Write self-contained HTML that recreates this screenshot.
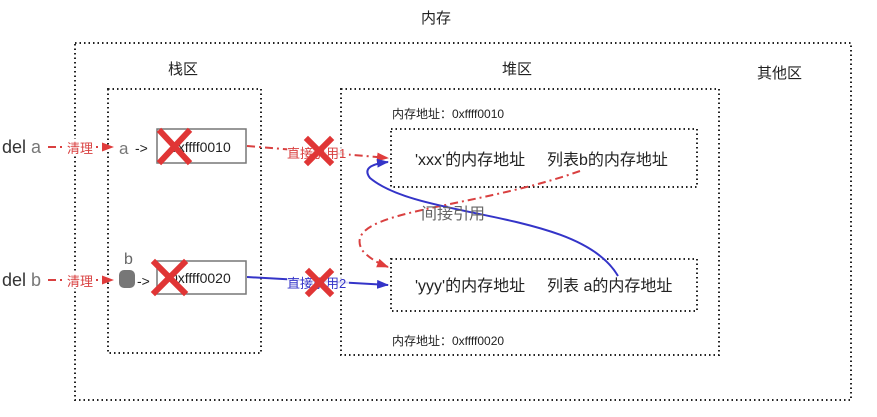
<!DOCTYPE html>
<html><head><meta charset="utf-8"><style>
body{margin:0;background:#fff}
svg text{font-family:"Liberation Sans","Noto Sans CJK SC",sans-serif}
</style></head><body>
<svg width="877" height="412" viewBox="0 0 877 412" xmlns="http://www.w3.org/2000/svg">
<defs>
<marker id="ar" markerWidth="12" markerHeight="9" refX="11" refY="4.5" orient="auto" markerUnits="userSpaceOnUse"><path d="M0,0 L12,4.5 L0,9 z" fill="#e03c3c"/></marker>
<marker id="ab" markerWidth="12" markerHeight="9" refX="11" refY="4.5" orient="auto" markerUnits="userSpaceOnUse"><path d="M0,0 L12,4.5 L0,9 z" fill="#3434c8"/></marker>
</defs>
<g fill="none" stroke="#222" stroke-width="2" stroke-dasharray="1.5 3">
<rect x="75" y="43" width="776" height="357"/>
<rect x="108" y="89" width="153" height="264"/>
<rect x="341" y="89" width="378" height="266"/>
<rect x="391" y="129" width="306" height="58"/>
<rect x="391" y="259" width="306" height="52"/>
</g>
<g fill="#222" font-size="15">
<text x="421" y="23">内存</text>
<text x="168" y="74">栈区</text>
<text x="502" y="74">堆区</text>
<text x="757" y="78">其他区</text>
</g>
<g font-size="12" fill="#222">
<text x="392" y="118">内存地址：0xffff0010</text>
<text x="392" y="345">内存地址：0xffff0020</text>
</g>
<g font-size="16" fill="#222">
<text x="415" y="165">'xxx'的内存地址<tspan x="547">列表b的内存地址</tspan></text>
<text x="415" y="291">'yyy'的内存地址<tspan x="547">列表 a的内存地址</tspan></text>
</g>
<text x="2" y="153" font-size="18" fill="#333">del <tspan fill="#777">a</tspan></text>
<text x="2" y="286" font-size="18" fill="#333">del <tspan fill="#777">b</tspan></text>
<g stroke="#d94040" stroke-width="2" stroke-dasharray="8 4 2 4" fill="none">
<line x1="48" y1="147" x2="113" y2="147" marker-end="url(#ar)"/>
<line x1="48" y1="280" x2="113" y2="280" marker-end="url(#ar)"/>
<path d="M247,146 Q320,152 388,158" marker-end="url(#ar)"/>
<path d="M580,171 C470,210 340,210 362,250 Q370,260 388,267" marker-end="url(#ar)"/>
</g>
<rect x="66" y="139" width="30" height="16" fill="#fff"/>
<rect x="66" y="272" width="30" height="16" fill="#fff"/>
<text x="67" y="153" font-size="13" fill="#d94040">清理</text>
<text x="67" y="286" font-size="13" fill="#d94040">清理</text>
<g stroke="#3434c8" stroke-width="2" fill="none">
<line x1="247" y1="277" x2="388" y2="285" marker-end="url(#ab)"/>
<path d="M618,276 C580,210 420,220 370,178 Q360,165 388,162" marker-end="url(#ab)"/>
</g>
<text x="421" y="219" font-size="16" fill="#666">间接引用</text>
<rect x="287" y="145" width="62" height="16" fill="#fff" opacity="0.8"/>
<text x="287" y="158" font-size="13" fill="#d94040">直接引用1</text>
<rect x="287" y="275" width="62" height="16" fill="#fff" opacity="0.8"/>
<text x="287" y="288" font-size="13" fill="#3434c8">直接引用2</text>
<rect x="157" y="129" width="89" height="34" fill="#fff" stroke="#777" stroke-width="1.5"/>
<rect x="157" y="261" width="89" height="33" fill="#fff" stroke="#777" stroke-width="1.5"/>
<text x="170" y="152" font-size="14" fill="#222">0xffff0010</text>
<text x="170" y="283" font-size="14" fill="#222">0xffff0020</text>
<text x="119" y="154" font-size="17" fill="#777">a</text>
<text x="135" y="153" font-size="14" fill="#222">-&gt;</text>
<text x="124" y="264" font-size="16" fill="#666">b</text>
<rect x="119" y="270" width="16" height="18" rx="5" fill="#777"/>
<text x="137" y="286" font-size="14" fill="#222">-&gt;</text>
<g stroke="#e03535" stroke-width="6" stroke-linecap="square">
<path d="M161,132 L188,161 M188,132 L161,161"/>
<path d="M155,263 L184,292 M184,263 L155,292"/>
<path d="M308,140 L330,162 M330,140 L308,162"/>
<path d="M309,272 L330,293 M330,272 L309,293"/>
</g>
</svg>
</body></html>
